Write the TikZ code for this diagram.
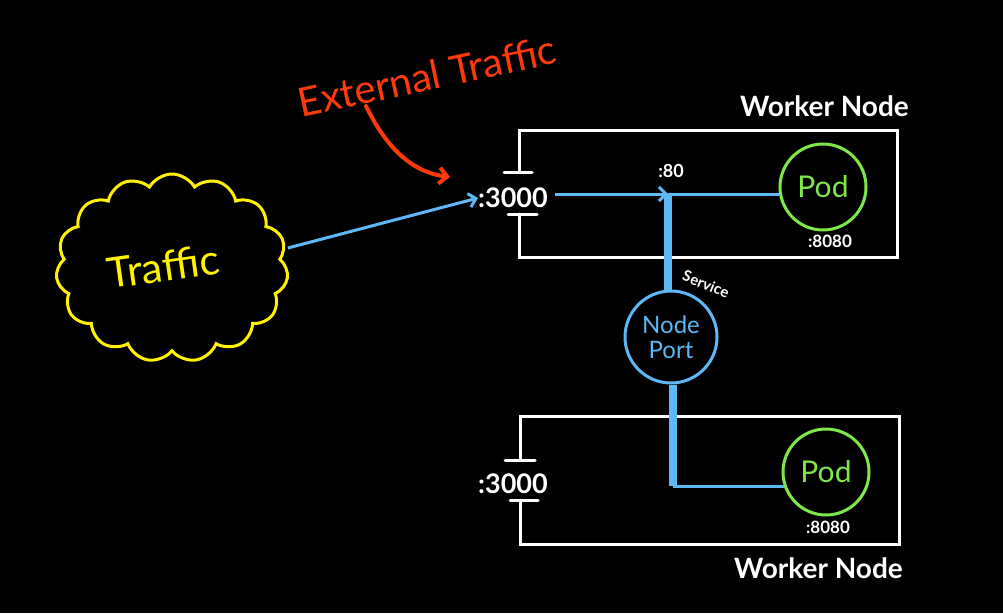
\documentclass[tikz,border=0pt]{standalone}
\usepackage{fontspec}
\setmainfont{Lato}
\usetikzlibrary{shapes.symbols,arrows.meta}
\definecolor{tblue}{HTML}{5DB8F5}
\definecolor{tgreen}{HTML}{7EE84A}
\definecolor{tyellow}{HTML}{FFF200}
\definecolor{tred}{HTML}{FF3A0A}
\tikzset{
  wline/.style={draw=white,line width=3pt,line cap=round},
  bthin/.style={draw=tblue,line width=3pt},
  bthick/.style={draw=tblue,line width=8pt},
  barb/.style={-{Straight Barb[length=7pt,width=14pt,line width=3pt]}},
  wtext/.style={text=white,font=\bfseries\fontsize{#1}{#1}\selectfont,inner sep=0pt},
  podc/.style={circle,draw=tgreen,line width=3pt,minimum size=86pt,text=tgreen,font=\fontsize{30}{30}\selectfont},
}
\begin{document}
\begin{tikzpicture}[x=1pt,y=-1pt]
\fill[black] (0,0) rectangle (1003,613);
\useasboundingbox (0,0) rectangle (1003,613);

% cloud
\node[cloud,cloud puffs=15,cloud puff arc=120,aspect=1.3,draw=tyellow,line width=3pt,
  minimum width=232pt,minimum height=188pt,inner sep=0pt] (cloud) at (172,268) {};
\node[text=tyellow,font=\fontsize{42}{42}\selectfont,rotate=8,inner sep=0pt] (trafficlbl) at (163,266) {Traffic};

% external traffic
\node[text=tred,font=\fontsize{40}{40}\selectfont,rotate=12,inner sep=0pt] (ext) at (427,76) {External Traffic};
\coordinate (redstart) at (366,106);
\coordinate (redend) at (450,177);
\draw[tred,line width=4pt,line cap=round,-{Straight Barb[length=8pt,width=16pt,line width=4pt]}]
  (redstart) .. controls (385,145) and (410,172) .. (redend);

% top worker node box
\draw[wline] (519,172) -- (519,130) -- (897,130) -- (897,257) -- (519,257) -- (519,214);
\draw[wline] (504,172) -- (532,172);
\draw[wline] (508,214) -- (537,214);
\node[wtext=27] (port1) at (513,198) {:3000};
\node[wtext=28,anchor=east] (wn1) at (909,106) {Worker Node};

% bottom worker node box
\draw[wline] (520,460) -- (520,416) -- (899,416) -- (899,544) -- (520,544) -- (520,500);
\draw[wline] (505,460) -- (535,460);
\draw[wline] (510,500) -- (538,500);
\node[wtext=27] (port2) at (513,484) {:3000};
\node[wtext=28,anchor=east] (wn2) at (903,568) {Worker Node};

% pods
\node[podc] (pod1) at (823,187) {Pod};
\node[wtext=17] (tp1) at (830,241) {:8080};
\node[podc] (pod2) at (826,472) {Pod};
\node[wtext=17] (tp2) at (828,527) {:8080};

% node port service
\node[circle,draw=tblue,line width=3pt,minimum size=92pt,text=tblue,align=center,
  font=\fontsize{24}{25}\selectfont] (np) at (671,337) {Node\\Port};
\node[wtext=15,rotate=-22] (svc) at (706,284) {Service};

% blue connectors
\draw[tblue,line width=3pt,-{Straight Barb[length=7pt,width=14pt,line width=3pt]}]
  (cloud.east) ++(0,-20) coordinate (cl) (cl) -- (port1.west);
\coordinate (c1) at (668,194);
\coordinate (c2) at (673,486);
\draw[bthin,barb] (port1.east) ++(7,-4) coordinate (p1e) (p1e) -- (c1);
\node[wtext=18] (t80) at (671,171) {:80};
\draw[bthick] (c1) -- (c1 |- np.north);
\draw[bthin] (c1) -- (pod1.west |- c1);
\draw[bthick] (c2 |- np.south) -- (c2);
\draw[bthin] (c2) -- ([xshift=2pt]pod2.west |- c2);
\end{tikzpicture}
\end{document}
